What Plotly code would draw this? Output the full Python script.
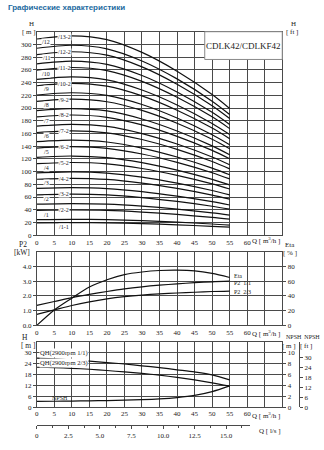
import plotly.graph_objects as go

W, HGT = 324, 450

# ---------------- top panel : H(Q) curves, H in m ----------------
Q_TOP = [0, 10, 20, 30, 40, 50, 55]
H_1_1 = [19.5, 19.8, 19.4, 18.2, 16.3, 14.0, 12.6]
H_1 = [24.5, 24.9, 24.4, 22.8, 20.5, 17.6, 15.8]
H_2_2 = [39.0, 39.6, 38.9, 36.3, 32.6, 28.0, 25.2]
H_2 = [49.0, 49.8, 48.9, 45.7, 41.0, 35.1, 31.7]
H_3_2 = [63.5, 64.5, 63.3, 59.2, 53.1, 45.5, 41.0]
H_3 = [73.5, 74.7, 73.3, 68.5, 61.4, 52.7, 47.5]
H_4_2 = [88.0, 89.4, 87.7, 82.0, 73.6, 63.1, 56.8]
H_4 = [98.0, 99.6, 97.7, 91.3, 81.9, 70.3, 63.3]
H_5_2 = [112.5, 114.3, 112.2, 104.9, 94.1, 80.7, 72.7]
H_5 = [122.5, 124.5, 122.1, 114.2, 102.4, 87.8, 79.1]
H_6_2 = [137.0, 139.2, 136.6, 127.7, 114.5, 98.2, 88.5]
H_6 = [147.0, 149.4, 146.6, 137.0, 122.9, 105.4, 95.0]
H_7_2 = [161.5, 164.1, 161.0, 150.5, 135.0, 115.8, 104.3]
H_7 = [171.5, 174.2, 171.0, 159.8, 143.4, 123.0, 110.8]
H_8_2 = [186.0, 189.0, 185.4, 173.4, 155.5, 133.4, 120.2]
H_8 = [196.0, 199.1, 195.4, 182.7, 163.9, 140.5, 126.6]
H_9_2 = [210.5, 213.9, 209.9, 196.2, 176.0, 150.9, 136.0]
H_9 = [220.5, 224.0, 219.8, 205.5, 184.3, 158.1, 142.4]
H_10_2 = [235.0, 238.8, 234.3, 219.0, 196.5, 168.5, 151.8]
H_10 = [245.0, 248.9, 244.3, 228.3, 204.8, 175.7, 158.3]
H_11_2 = [259.5, 263.7, 258.7, 241.9, 216.9, 186.1, 167.6]
H_11 = [269.5, 273.8, 268.7, 251.2, 225.3, 193.2, 174.1]
H_12_2 = [284.0, 288.5, 283.1, 264.7, 237.4, 203.6, 183.5]
H_12 = [294.0, 298.7, 293.1, 274.0, 245.8, 210.8, 189.9]
H_13_2 = [308.5, 313.4, 307.6, 287.5, 257.9, 221.2, 199.3]

CURVE_NAMES = ["/1-1", "/1", "/2-2", "/2", "/3-2", "/3", "/4-2", "/4", "/5-2", "/5",
               "/6-2", "/6", "/7-2", "/7", "/8-2", "/8", "/9-2", "/9", "/10-2", "/10",
               "/11-2", "/11", "/12-2", "/12", "/13-2"]
CURVES = [H_1_1, H_1, H_2_2, H_2, H_3_2, H_3, H_4_2, H_4, H_5_2, H_5,
          H_6_2, H_6, H_7_2, H_7, H_8_2, H_8, H_9_2, H_9, H_10_2, H_10,
          H_11_2, H_11, H_12_2, H_12, H_13_2]

# ---------------- middle panel : P2 [kW] and Eta [%] ----------------
Q_MID = [0, 5, 10, 15, 20, 25, 30, 35, 40, 45, 50, 55]
ETA = [0, 21, 37, 52, 62, 69, 72.5, 74.5, 75, 74, 70.5, 65]
P2_FULL = [1.36, 1.62, 1.88, 2.10, 2.30, 2.48, 2.62, 2.73, 2.82, 2.90, 2.96, 3.00]
P2_23 = [0.75, 1.05, 1.35, 1.60, 1.80, 1.95, 2.06, 2.14, 2.20, 2.25, 2.30, 2.33]

# ---------------- bottom panel : single stage QH and NPSH ----------------
Q_BOT = [0, 5, 10, 15, 20, 25, 30, 35, 40, 45, 50, 55]
QH_FULL = [27.1, 26.6, 26.0, 25.4, 24.6, 23.8, 22.8, 21.8, 20.6, 19.4, 17.8, 15.0]
QH_23 = [22.0, 21.8, 21.4, 20.9, 20.2, 19.4, 18.6, 17.6, 16.4, 15.0, 13.4, 11.6]
NPSH = [1.05, 1.07, 1.10, 1.15, 1.20, 1.27, 1.35, 1.50, 1.75, 2.15, 2.85, 3.90]

# ---------------- tick values / labels ----------------
Q_TICKS = [0, 5, 10, 15, 20, 25, 30, 35, 40, 45, 50, 55, 60]
HM_TICKS = list(range(0, 301, 20))
HFT_TICKS = [0, 100, 200, 300, 400, 500, 600, 700, 800, 900, 1000]
HFT_TEXT = ["0.0", "100", "200", "300", "400", "500", "600", "700", "800", "900", "1000"]
P2_TICKS = [0, 1, 2, 3, 4]
P2_TEXT = ["0.0", "1.0", "2.0", "3.0", "4.0"]
ETA_TICKS = [0, 20, 40, 60, 80]
HB_TICKS = [0, 6, 12, 18, 24, 30]
NPSHM_TICKS = [0, 2, 4, 6, 8, 10]
NPSHFT_TICKS = [0, 6, 12, 18, 24, 30]
QLS_TICKS = [0, 2.5, 5, 7.5, 10, 12.5, 15]
QLS_TEXT = ["0", "2.5", "5.0", "7.5", "10.0", "12.5", "15.0"]

SERIF = "Liberation Serif, Times New Roman, serif"
GRID = "#4a4a4a"
BLACK = "#111111"


def fx(x):
    return x / W


def fy(y):
    return 1 - y / HGT


X_DOM = [fx(35), fx(282)]
TOP_DOM = [fy(237.3), fy(32)]
MID_DOM = [fy(328.3), fy(254)]
BOT_DOM = [fy(410.7), fy(345)]
M_TO_FT = 3.28084
Q_MAX = 70

fig = go.Figure()

line_style = dict(color=BLACK, width=1.2, shape="spline", smoothing=0.8)

for name, hv in zip(CURVE_NAMES, CURVES):
    fig.add_trace(go.Scatter(x=Q_TOP, y=hv, mode="lines", line=line_style,
                             xaxis="x", yaxis="y", showlegend=False, hoverinfo="skip",
                             name=name))

fig.add_trace(go.Scatter(x=Q_MID, y=P2_FULL, mode="lines", line=line_style,
                         xaxis="x2", yaxis="y3", showlegend=False, hoverinfo="skip"))
fig.add_trace(go.Scatter(x=Q_MID, y=P2_23, mode="lines", line=line_style,
                         xaxis="x2", yaxis="y3", showlegend=False, hoverinfo="skip"))
fig.add_trace(go.Scatter(x=Q_MID, y=ETA, mode="lines", line=line_style,
                         xaxis="x2", yaxis="y4", showlegend=False, hoverinfo="skip"))

fig.add_trace(go.Scatter(x=Q_BOT, y=QH_FULL, mode="lines", line=line_style,
                         xaxis="x3", yaxis="y5", showlegend=False, hoverinfo="skip"))
fig.add_trace(go.Scatter(x=Q_BOT, y=QH_23, mode="lines", line=line_style,
                         xaxis="x3", yaxis="y5", showlegend=False, hoverinfo="skip"))
fig.add_trace(go.Scatter(x=Q_BOT, y=NPSH, mode="lines", line=line_style,
                         xaxis="x3", yaxis="y6", showlegend=False, hoverinfo="skip"))
# helper traces (invisible) carrying the l/s axis and the NPSH ft axis
fig.add_trace(go.Scatter(x=[q / 3.6 for q in Q_BOT], y=NPSH, mode="lines",
                         line=dict(width=0, color="rgba(0,0,0,0)"),
                         xaxis="x4", yaxis="y8", showlegend=False, hoverinfo="skip"))
fig.add_trace(go.Scatter(x=Q_BOT, y=[v * M_TO_FT for v in NPSH], mode="lines",
                         line=dict(width=0, color="rgba(0,0,0,0)"),
                         xaxis="x3", yaxis="y7", showlegend=False, hoverinfo="skip"))

tickfont = dict(family=SERIF, size=7, color="#222")


def xaxis_common(anchor):
    return dict(domain=X_DOM, anchor=anchor, range=[0, Q_MAX], tickmode="array",
                tickvals=Q_TICKS, showgrid=True, gridcolor=GRID,
                gridwidth=1, showline=True, linecolor=GRID, linewidth=1, mirror=True,
                minor=dict(tick0=0, dtick=5, showgrid=True, gridcolor=GRID, gridwidth=1,
                           ticks=""),
                ticks="", zeroline=False, tickfont=tickfont, fixedrange=True)


def yleft(dom, anchor, rng, vals, text=None):
    d = dict(domain=dom, anchor=anchor, range=rng, tickmode="array", tickvals=vals,
             showgrid=True, gridcolor=GRID, gridwidth=1, showline=True, linecolor=GRID,
             linewidth=1, mirror=True, ticks="outside", ticklen=3, tickcolor=GRID,
             zeroline=False, tickfont=tickfont, fixedrange=True)
    if text is not None:
        d["ticktext"] = text
    return d


def yright(over, anchor, rng, vals, text=None):
    d = dict(overlaying=over, anchor=anchor, side="right", range=rng, tickmode="array",
             tickvals=vals, showgrid=False, showline=False, ticks="outside", ticklen=3,
             tickcolor=GRID, zeroline=False, tickfont=tickfont, fixedrange=True)
    if text is not None:
        d["ticktext"] = text
    return d


layout = dict(
    width=W, height=HGT, margin=dict(l=0, r=0, t=0, b=0),
    paper_bgcolor="white", plot_bgcolor="white", showlegend=False,
    xaxis=xaxis_common("y"),
    yaxis=yleft(TOP_DOM, "x", [0, 320], HM_TICKS),
    yaxis2=yright("y", "x", [0, 320 * M_TO_FT], HFT_TICKS, HFT_TEXT),
    xaxis2=xaxis_common("y3"),
    yaxis3=yleft(MID_DOM, "x2", [0, 5], P2_TICKS, P2_TEXT),
    yaxis4=yright("y3", "x2", [0, 100], ETA_TICKS),
    xaxis3=xaxis_common("y5"),
    yaxis5=yleft(BOT_DOM, "x3", [0, 36], HB_TICKS),
    yaxis6=yright("y5", "x3", [0, 12], NPSHM_TICKS),
    yaxis7=dict(overlaying="y5", anchor="free", position=fx(299), side="right",
                range=[0, 12 * M_TO_FT], tickmode="array", tickvals=NPSHFT_TICKS,
                showgrid=False, showline=True, linecolor=GRID, linewidth=1,
                ticks="outside", ticklen=3, tickcolor=GRID, zeroline=False,
                tickfont=tickfont, fixedrange=True),
    xaxis4=dict(domain=[fx(35), fx(250)], anchor="y8", range=[0, (250 - 35) / (247 / Q_MAX) / 3.6],
                tickmode="array", tickvals=QLS_TICKS, ticktext=QLS_TEXT, showgrid=False,
                showline=True, linecolor=GRID, linewidth=1, ticks="outside", ticklen=3,
                tickcolor=GRID, minor=dict(ticks="outside", ticklen=2, tick0=0, dtick=1.25,
                                           tickcolor=GRID, showgrid=False),
                zeroline=False, tickfont=tickfont, fixedrange=True),
    yaxis8=dict(domain=[fy(429.3), fy(425)], anchor="x4", visible=False, range=[0, 5],
                fixedrange=True),
)
fig.update_layout(**layout)

ann = []


def txt(x, y, s, size=7.5, xanchor="center", **kw):
    d = dict(x=fx(x), y=fy(y), xref="paper", yref="paper", text=s, showarrow=False,
             xanchor=xanchor, yanchor="middle", font=dict(family=SERIF, size=size, color="#222"))
    d.update(kw)
    ann.append(d)


# title
ann.append(dict(x=fx(4), y=fy(7.5), xref="paper", yref="paper", showarrow=False,
                text="<b>Графические характеристики</b>", xanchor="left", yanchor="middle",
                font=dict(family="Liberation Sans, Arial, sans-serif", size=8, color="#1c6aa0")))

# axis titles
txt(30, 24.5, "H", 7)
txt(27, 32, "[ m ]", 7)
txt(293, 24.5, "H", 7)
txt(292, 32, "[ ft ]", 7)
txt(282, 243, "Q [ m<sup>3</sup>/h ]", 7, xanchor="right")
txt(21, 247, "P2", 7.5)
txt(20, 255, "[kW]", 7.5)
txt(289.5, 247, "Eta", 7)
txt(289.5, 255, "[ % ]", 7)
txt(282, 336.5, "Q [ m<sup>3</sup>/h ]", 7, xanchor="right")
txt(284, 340.5, "NPSH  NPSH", 6, xanchor="left")
txt(288.5, 349, "[ m ]", 7)
txt(306, 349, "[ ft ]", 7)
txt(23, 341, "H", 7.5)
txt(27, 349, "[ m ]", 7.5)
txt(282, 419, "Q [ m<sup>3</sup>/h ]", 7, xanchor="right")
txt(283, 435, "Q [ l/s ]", 7, xanchor="right")

# model box
fig.add_shape(type="rect", xref="paper", yref="paper", x0=fx(204), x1=fx(282),
              y0=fy(60), y1=fy(32), line=dict(color="#888", width=1), fillcolor="white",
              layer="above")
txt(243, 46, "CDLK42/CDLKF42", 9)

# curve labels (top panel)
for name, hv in zip(CURVE_NAMES, CURVES):
    if "-" in name:
        qx = 7.8
        ys = -4 if name == "/1-1" else 0
    else:
        qx = 2.7
        ys = 5
    yv = hv[0] + (hv[1] - hv[0]) * qx / (Q_TOP[1] - Q_TOP[0])
    ann.append(dict(x=qx, y=yv, xref="x", yref="y", text=name, showarrow=False,
                    xanchor="center", yanchor="middle", yshift=ys, bgcolor="white",
                    borderpad=0, font=dict(family=SERIF, size=6, color="#222")))

# middle labels
for lab, yv, yr, ysh in (("Eta", ETA[-1], "y4", 1.5), ("P2\u00a0 1/1", P2_FULL[-1], "y3", -1.5),
                         ("P2\u00a0 2/3", P2_23[-1], "y3", -1)):
    ann.append(dict(x=Q_MID[-1], y=yv, xref="x2", yref=yr, text=lab, showarrow=False,
                    xanchor="left", yanchor="middle", xshift=2, yshift=ysh,
                    font=dict(family=SERIF, size=6, color="#222")))

# bottom labels
ann.append(dict(x=0.6, y=QH_FULL[0], xref="x3", yref="y5", text="QH(2900rpm 1/1)",
                showarrow=False, xanchor="left", yanchor="middle", yshift=5, bgcolor="white",
                borderpad=0, font=dict(family=SERIF, size=6.6, color="#222")))
ann.append(dict(x=0.6, y=QH_23[0], xref="x3", yref="y5", text="QH(2900rpm 2/3)",
                showarrow=False, xanchor="left", yanchor="middle", yshift=4, bgcolor="white",
                borderpad=0, font=dict(family=SERIF, size=6.6, color="#222")))
ann.append(dict(x=6.5, y=NPSH[1], xref="x3", yref="y6", text="NPSH",
                showarrow=False, xanchor="center", yanchor="middle", yshift=3.5,
                font=dict(family=SERIF, size=6, color="#222")))

fig.update_layout(annotations=ann)
fig.write_html("out.html", include_plotlyjs=True, config={"displayModeBar": False})
